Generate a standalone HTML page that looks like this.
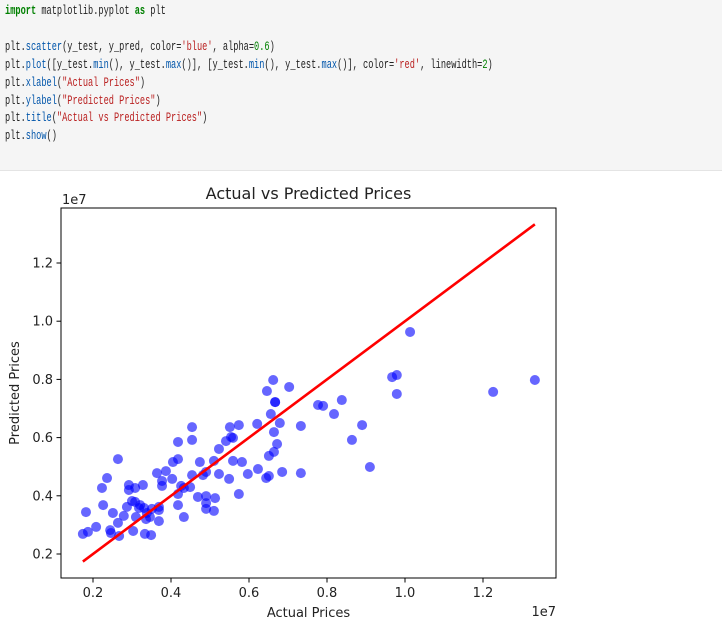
<!DOCTYPE html>
<html><head><meta charset="utf-8"><style>
body{margin:0;width:722px;height:641px;background:#fff;overflow:hidden;position:relative}
#code{position:absolute;left:0;top:0;width:722px;height:170px;background:#f5f5f5;border-bottom:1px solid #e4e4e4}
#code pre{margin:0;position:absolute;left:5px;top:2px;font-family:"Liberation Mono","DejaVu Sans Mono",monospace;font-size:13px;line-height:17.9px;color:#212121;transform:scaleX(0.665);transform-origin:0 0}
.k{color:#008000;font-weight:bold}.f{color:#0055aa}.s{color:#ba2121}.n{color:#008000}
svg{position:absolute;left:0;top:0}
svg text{font-family:"DejaVu Sans","Liberation Sans",sans-serif;fill:#222}
</style></head><body>
<div id="code"><pre><span class="k">import</span> matplotlib.pyplot <span class="k">as</span> plt

plt.<span class="f">scatter</span>(y_test, y_pred, color=<span class="s">'blue'</span>, alpha=<span class="n">0.6</span>)
plt.<span class="f">plot</span>([y_test.<span class="f">min</span>(), y_test.<span class="f">max</span>()], [y_test.<span class="f">min</span>(), y_test.<span class="f">max</span>()], color=<span class="s">'red'</span>, linewidth=<span class="n">2</span>)
plt.<span class="f">xlabel</span>(<span class="s">"Actual Prices"</span>)
plt.<span class="f">ylabel</span>(<span class="s">"Predicted Prices"</span>)
plt.<span class="f">title</span>(<span class="s">"Actual vs Predicted Prices"</span>)
plt.<span class="f">show</span>()</pre></div>
<svg id="chart" width="722" height="641"></svg>
<script>
const actual=[.662,.646,.703,.667,.667,.656,.679,.664,.733,.672,.664,.651,.685,.733,.651,.644,.623,.597,.574,.582,.559,.549,.523,.510,.523,.541,.554,.559,.551,.574,.621,.454,.454,.418,.474,.490,.482,.454,.418,.405,.387,.364,.377,.377,.403,.426,.449,.433,.418,.469,.490,.513,.490,.490,.510,.418,.433,.369,.369,.351,.346,.336,.369,.331,.321,.308,.300,.287,.279,.310,.328,.308,.292,.292,.264,.236,.223,.226,.251,.182,.208,.187,.174,.244,.246,.264,.267,.303,.333,.338,.318,.777,.967,.979,.979,1.226,1.333,.790,.818,.838,.890,.864,.910,.349,1.013];
const predicted=[.798,.760,.774,.722,.722,.681,.650,.619,.640,.578,.551,.537,.482,.478,.468,.461,.492,.475,.406,.516,.520,.458,.475,.520,.561,.588,.602,.599,.636,.643,.647,.636,.592,.585,.516,.482,.471,.471,.526,.516,.485,.478,.451,.434,.458,.434,.430,.427,.406,.396,.399,.392,.375,.355,.348,.368,.327,.362,.351,.355,.327,.320,.313,.358,.368,.379,.382,.362,.331,.327,.437,.427,.437,.420,.526,.461,.427,.368,.341,.344,.293,.276,.269,.282,.272,.307,.262,.279,.269,.341,.358,.712,.808,.815,.750,.757,.798,.709,.681,.729,.643,.592,.499,.265,.963];
const xTicks=[0.2,0.4,0.6,0.8,1.0,1.2];
const yTicks=[0.2,0.4,0.6,0.8,1.0,1.2];
const NS='http://www.w3.org/2000/svg';
const svg=document.getElementById('chart');
const L=61,R=556,T=208,B=578;
const sx=v=>93+(v-0.2)*390;
const sy=v=>554-(v-0.2)*291;
function mk(tag,attrs,text){const e=document.createElementNS(NS,tag);for(const k in attrs)e.setAttribute(k,attrs[k]);if(text!==undefined)e.textContent=text;svg.appendChild(e);return e;}
const bg=mk('rect',{x:L,y:T,width:R-L,height:B-T,fill:'#fff'});


actual.forEach((a,i)=>{
 const c=mk('circle',{cx:sx(a),cy:sy(predicted[i]),r:5,fill:'blue','fill-opacity':0.6,stroke:'none'});
 
 
});
const mn=Math.min(...actual),mx=Math.max(...actual);
const ln=mk('line',{x1:sx(mn),y1:sy(mn),x2:sx(mx),y2:sy(mx),stroke:'red','stroke-width':2.6});


const fr=mk('rect',{x:L,y:T,width:R-L,height:B-T,fill:'none',stroke:'#000','stroke-width':1});


xTicks.forEach(t=>{
 const x=sx(t);
 const tk=mk('line',{x1:x,y1:B,x2:x,y2:B+4.5,stroke:'#000'});
 
 
 const lb=mk('text',{x:x,y:B+19,'text-anchor':'middle','font-size':13},t.toFixed(1));
 
 
});
yTicks.forEach(t=>{
 const y=sy(t);
 const tk=mk('line',{x1:L-4.5,y1:y,x2:L,y2:y,stroke:'#000'});
 
 
 const lb=mk('text',{x:L-8,y:y+4.5,'text-anchor':'end','font-size':13},t.toFixed(1));
 
 
});
const ti=mk('text',{x:(L+R)/2,y:199,'text-anchor':'middle','font-size':16},'Actual vs Predicted Prices');


const xl=mk('text',{x:(L+R)/2,y:617,'text-anchor':'middle','font-size':13},'Actual Prices');


const yl=mk('text',{x:0,y:0,'text-anchor':'middle','font-size':13,transform:'translate(19,393) rotate(-90)'},'Predicted Prices');


const oy=mk('text',{x:62,y:204,'font-size':13},'1e7');


const ox=mk('text',{x:556,y:616,'text-anchor':'end','font-size':13},'1e7');


</script>
</body></html>
